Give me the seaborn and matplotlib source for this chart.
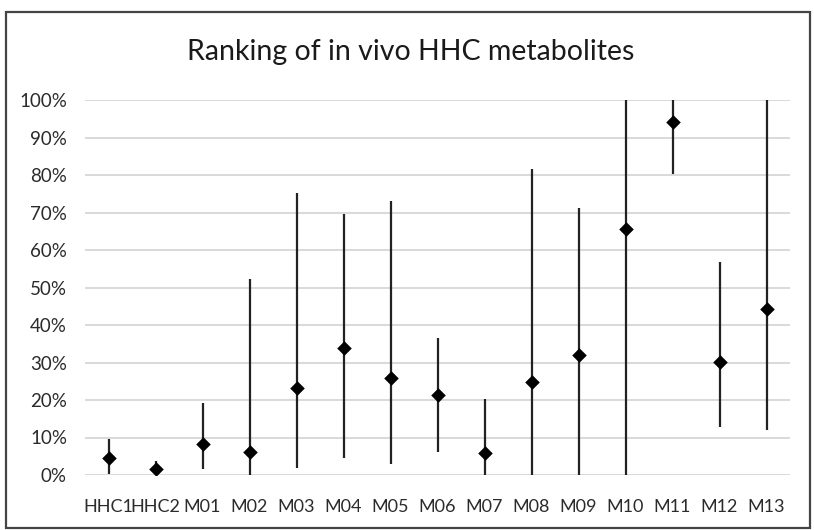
import matplotlib
matplotlib.use("Agg")
import matplotlib.pyplot as plt
import matplotlib.patches as patches
from matplotlib.ticker import PercentFormatter
import seaborn as sns
import pandas as pd

# ranking data (fractions)
metabolites = ["HHC1", "HHC2", "M01", "M02", "M03", "M04", "M05", "M06",
               "M07", "M08", "M09", "M10", "M11", "M12", "M13"]
rank_mid = [0.045, 0.015, 0.082, 0.061, 0.233, 0.339, 0.259, 0.214,
            0.059, 0.247, 0.320, 0.656, 0.942, 0.302, 0.444]
rank_low = [0.004, 0.010, 0.015, 0.0, 0.020, 0.046, 0.030, 0.061,
            0.0, 0.0, 0.0, 0.0, 0.802, 0.129, 0.119]
rank_high = [0.095, 0.037, 0.193, 0.524, 0.753, 0.695, 0.732, 0.366,
             0.202, 0.815, 0.711, 1.0, 1.0, 0.568, 1.0]

df = pd.DataFrame({"metabolite": metabolites, "mid": rank_mid,
                   "low": rank_low, "high": rank_high})

sns.set_style("white")
plt.rcParams["font.family"] = ["Lato", "DejaVu Sans"]

fig = plt.figure(figsize=(8.14, 5.30), dpi=100)
W, H = 814, 530
ax = fig.add_axes([85 / W, 1 - 475 / H, (790 - 85) / W, (475 - 100) / H])

xpos = list(range(len(metabolites)))
ax.vlines(xpos, df["low"], df["high"], color="#222222", linewidth=1.6, zorder=3)
sns.scatterplot(x=xpos, y=df["mid"], marker="D", s=55, color="black",
                edgecolor="black", linewidth=0, ax=ax, zorder=4)

ax.set_xlim(-0.5, len(metabolites) - 0.5)
ax.set_ylim(0, 1.0)
ax.set_yticks([i / 10 for i in range(11)])
ax.yaxis.set_major_formatter(PercentFormatter(1.0, decimals=0))
ax.set_xticks(xpos)
ax.set_xticklabels(metabolites)
ax.tick_params(axis="both", length=0, labelsize=13.5, colors="#2b2b2b")
ax.tick_params(axis="x", pad=17, labelsize=13)
ax.tick_params(axis="y", pad=13)
ax.grid(axis="y", color="#d9d9d9", linewidth=1.4)
ax.set_axisbelow(True)
sns.despine(ax=ax, left=True, bottom=True)
ax.set_xlabel("")
ax.set_ylabel("")

fig.text(411 / W, 1 - 52 / H, "Ranking of in vivo HHC metabolites",
         ha="center", va="center", fontsize=20.5, color="#1a1a1a")

# chart frame
fig.patches.append(patches.Rectangle((6 / W, 1 - 528 / H), (810 - 6) / W,
                                     (528 - 12) / H, transform=fig.transFigure,
                                     fill=False, edgecolor="#444444", linewidth=1.6))

fig.savefig("out.png", dpi=100)
